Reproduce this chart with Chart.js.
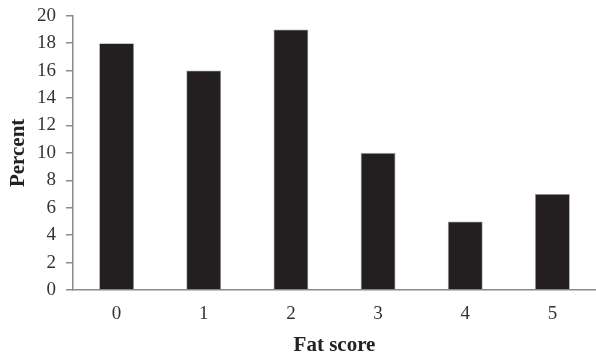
<!DOCTYPE html>
<html>
<head>
<meta charset="utf-8">
<script src="https://cdn.jsdelivr.net/npm/chart.js@4/dist/chart.umd.min.js"></script>
<style>
  html, body { margin: 0; padding: 0; background: #fff; }
  #wrap { width: 596px; height: 358px; }
</style>
</head>
<body>
<div id="wrap"><canvas id="c" width="596" height="358"></canvas></div>
<script>
// Fat score distribution (percent of birds per score)
const categories = ['0', '1', '2', '3', '4', '5'];
const percentValues = [18, 16, 19, 10, 5, 7];
const yTicks = [0, 2, 4, 6, 8, 10, 12, 14, 16, 18, 20];

const serif = "'Liberation Serif', 'Times New Roman', serif";
const axisGray = '#8a8a8a';

new Chart(document.getElementById('c'), {
  type: 'bar',
  data: {
    labels: categories,
    datasets: [{
      data: percentValues,
      backgroundColor: '#231f20',
      borderColor: '#9a9a9a',
      borderWidth: 0.8,
      barPercentage: 0.4,
      categoryPercentage: 1.0
    }]
  },
  options: {
    responsive: false,
    animation: false,
    devicePixelRatio: 1,
    layout: { padding: { top: 0, right: 0, bottom: 0, left: 2 } },
    plugins: { legend: { display: false }, tooltip: { enabled: false } },
    scales: {
      x: {
        afterFit: (scale) => { scale.height = 68; },
        grid: { display: false, drawTicks: false },
        border: { display: true, color: axisGray, width: 1.5 },
        ticks: { color: '#333', font: { family: serif, size: 19 }, padding: 13 },
        title: {
          display: true, text: 'Fat score', color: '#222',
          font: { family: serif, size: 21, weight: 'bold' }, padding: { top: 0, bottom: 0 }
        }
      },
      y: {
        min: 0, max: 20,
        afterFit: (scale) => { scale.width = 71; },
        afterBuildTicks: (axis) => { axis.ticks = yTicks.map(v => ({ value: v })); },
        grid: { drawOnChartArea: false, drawTicks: true, tickLength: 7, color: axisGray, lineWidth: 1.5 },
        border: { display: true, color: axisGray, width: 1.5 },
        ticks: { color: '#333', font: { family: serif, size: 19, lineHeight: 0.6 }, padding: 10, autoSkip: false },
        title: {
          display: true, text: 'Percent', color: '#222',
          font: { family: serif, size: 21, weight: 'bold' }, padding: { top: 4, bottom: 0 }
        }
      }
    }
  }
});
</script>
</body>
</html>
